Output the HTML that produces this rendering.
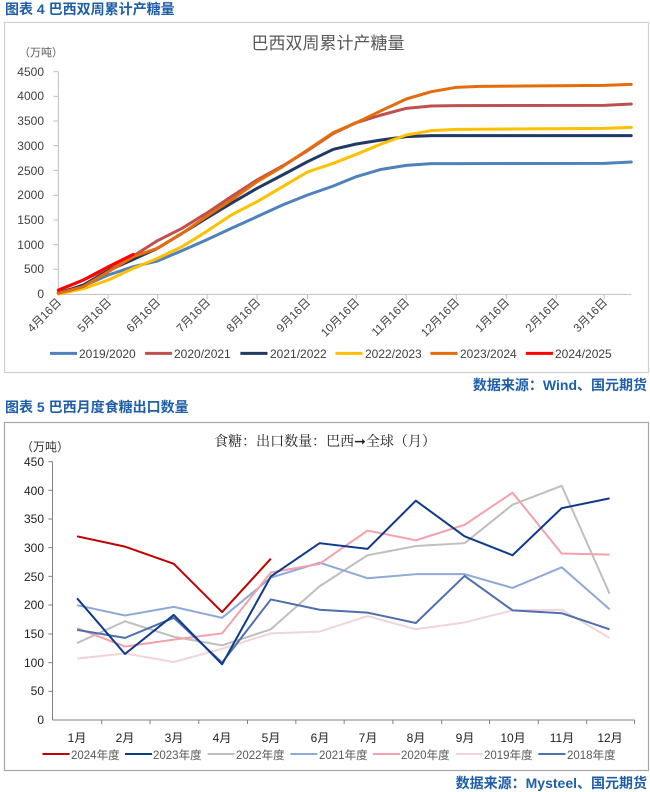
<!DOCTYPE html>
<html><head><meta charset="utf-8"><style>
body{margin:0;background:#fff;}
svg{display:block;font-family:"Liberation Sans","Noto Sans CJK SC",sans-serif;}
</style></head><body>
<svg width="650" height="792" viewBox="0 0 650 792" xmlns="http://www.w3.org/2000/svg">
<!-- Chart 1 text -->
<text x="5" y="14" font-size="14" font-weight="bold" fill="#1f5fa8">图表 4  巴西双周累计产糖量</text>
<rect x="4.5" y="22.5" width="644" height="350" fill="none" stroke="#d0d0d0" stroke-width="1.2"/>
<text x="328" y="49" font-size="17" fill="#595959" text-anchor="middle">巴西双周累计产糖量</text>
<text x="19" y="56" font-size="11" fill="#595959">（万吨）</text>
<g font-size="12" fill="#404040" text-anchor="end">
<text x="44" y="76">4500</text><text x="44" y="100">4000</text><text x="44" y="125">3500</text><text x="44" y="150">3000</text><text x="44" y="175">2500</text><text x="44" y="199">2000</text><text x="44" y="224">1500</text><text x="44" y="249">1000</text><text x="44" y="273">500</text><text x="44" y="298">0</text>
</g>
<g font-size="11.5" fill="#404040" text-anchor="end">
<text transform="translate(62,303) rotate(-45)">4月16日</text>
<text transform="translate(112,303) rotate(-45)">5月16日</text>
<text transform="translate(161,303) rotate(-45)">6月16日</text>
<text transform="translate(211,303) rotate(-45)">7月16日</text>
<text transform="translate(261,303) rotate(-45)">8月16日</text>
<text transform="translate(311,303) rotate(-45)">9月16日</text>
<text transform="translate(360,303) rotate(-45)">10月16日</text>
<text transform="translate(410,303) rotate(-45)">11月16日</text>
<text transform="translate(460,303) rotate(-45)">12月16日</text>
<text transform="translate(510,303) rotate(-45)">1月16日</text>
<text transform="translate(560,303) rotate(-45)">2月16日</text>
<text transform="translate(608,303) rotate(-45)">3月16日</text>
</g>
<g font-size="12" fill="#404040">
<text x="79" y="358">2019/2020</text><text x="174" y="358">2020/2021</text><text x="270" y="358">2021/2022</text><text x="365" y="358">2022/2023</text><text x="460" y="358">2023/2024</text><text x="555" y="358">2024/2025</text>
</g>
<text x="647" y="390" font-size="14" font-weight="bold" fill="#1f5fa8" text-anchor="end">数据来源：Wind、国元期货</text>

<g transform="scale(0.416667,0.333333)">
<g stroke="#bfbfbf" stroke-width="1" vector-effect="non-scaling-stroke">
<line vector-effect="non-scaling-stroke" x1="140" y1="215" x2="140" y2="883"/><line vector-effect="non-scaling-stroke" x1="140" y1="883" x2="1515" y2="883"/>
</g>
<g stroke="#bfbfbf" stroke-width="1">
<line vector-effect="non-scaling-stroke" x1="128" y1="215" x2="140" y2="215"/><line vector-effect="non-scaling-stroke" x1="128" y1="289" x2="140" y2="289"/><line vector-effect="non-scaling-stroke" x1="128" y1="363" x2="140" y2="363"/><line vector-effect="non-scaling-stroke" x1="128" y1="437" x2="140" y2="437"/><line vector-effect="non-scaling-stroke" x1="128" y1="511" x2="140" y2="511"/><line vector-effect="non-scaling-stroke" x1="128" y1="586" x2="140" y2="586"/><line vector-effect="non-scaling-stroke" x1="128" y1="660" x2="140" y2="660"/><line vector-effect="non-scaling-stroke" x1="128" y1="734" x2="140" y2="734"/><line vector-effect="non-scaling-stroke" x1="128" y1="808" x2="140" y2="808"/>
<line vector-effect="non-scaling-stroke" x1="259" y1="883" x2="259" y2="898"/><line vector-effect="non-scaling-stroke" x1="378" y1="883" x2="378" y2="898"/><line vector-effect="non-scaling-stroke" x1="497" y1="883" x2="497" y2="898"/><line vector-effect="non-scaling-stroke" x1="617" y1="883" x2="617" y2="898"/><line vector-effect="non-scaling-stroke" x1="738" y1="883" x2="738" y2="898"/><line vector-effect="non-scaling-stroke" x1="855" y1="883" x2="855" y2="898"/><line vector-effect="non-scaling-stroke" x1="975" y1="883" x2="975" y2="898"/><line vector-effect="non-scaling-stroke" x1="1095" y1="883" x2="1095" y2="898"/><line vector-effect="non-scaling-stroke" x1="1215" y1="883" x2="1215" y2="898"/><line vector-effect="non-scaling-stroke" x1="1335" y1="883" x2="1335" y2="898"/><line vector-effect="non-scaling-stroke" x1="1450" y1="883" x2="1450" y2="898"/>
</g>
<g fill="none" stroke-width="3" stroke-linejoin="round" stroke-linecap="round">
<polyline vector-effect="non-scaling-stroke" stroke="#4f81bd" points="140,878 200,858 260,825 320,800 378,783 437,752 495,720 555,685 617,650 678,615 738,585 800,558 855,530 915,508 975,496 1035,491 1095,491 1450,490 1515,486"/>
<polyline vector-effect="non-scaling-stroke" stroke="#c0504d" points="140,872 200,840 260,805 320,768 378,722 437,685 495,640 555,590 617,540 678,498 738,452 800,400 855,368 915,345 975,325 1035,318 1095,317 1450,316 1515,312"/>
<polyline vector-effect="non-scaling-stroke" stroke="#1f3864" points="140,880 200,855 260,812 320,778 378,745 437,700 495,655 555,610 617,565 678,525 738,485 800,448 855,432 915,420 975,410 1035,407 1515,407"/>
<polyline vector-effect="non-scaling-stroke" stroke="#ffc000" points="140,882 200,866 260,840 320,805 378,775 437,740 495,695 555,645 617,605 678,560 738,516 800,490 855,463 915,432 975,405 1035,392 1095,388 1450,385 1515,382"/>
<polyline vector-effect="non-scaling-stroke" stroke="#e46c0a" points="140,880 200,860 260,815 320,770 378,745 437,700 495,650 555,600 617,545 678,500 738,450 800,398 855,368 915,332 975,297 1035,275 1095,262 1150,259 1450,256 1515,253"/>
<polyline vector-effect="non-scaling-stroke" stroke="#ff0000" points="140,870 200,840 260,800 320,763"/>
</g>
<g stroke-width="3">
<line vector-effect="non-scaling-stroke" x1="120" y1="1060" x2="185" y2="1060" stroke="#4f81bd"/>
<line vector-effect="non-scaling-stroke" x1="348" y1="1060" x2="413" y2="1060" stroke="#c0504d"/>
<line vector-effect="non-scaling-stroke" x1="577" y1="1060" x2="642" y2="1060" stroke="#1f3864"/>
<line vector-effect="non-scaling-stroke" x1="805" y1="1060" x2="870" y2="1060" stroke="#ffc000"/>
<line vector-effect="non-scaling-stroke" x1="1033" y1="1060" x2="1098" y2="1060" stroke="#e46c0a"/>
<line vector-effect="non-scaling-stroke" x1="1262" y1="1060" x2="1327" y2="1060" stroke="#ff0000"/>
</g>
</g>

<!-- Chart 2 text -->
<text x="5" y="412" font-size="14" font-weight="bold" fill="#1f5fa8">图表 5  巴西月度食糖出口数量</text>
<rect x="4.5" y="422.5" width="644" height="348" fill="none" stroke="#a6a6a6" stroke-width="1.2"/>
<text x="325" y="446" font-size="14" fill="#222" text-anchor="middle" font-family="'Noto Serif CJK SC','Liberation Serif',serif">食糖：出口数量：巴西➞全球（月）</text>
<text x="21" y="451" font-size="12" fill="#333">（万吨）</text>
<g font-size="12" fill="#222" text-anchor="end">
<text x="44" y="466">450</text><text x="44" y="495">400</text><text x="44" y="523">350</text><text x="44" y="552">300</text><text x="44" y="581">250</text><text x="44" y="609">200</text><text x="44" y="638">150</text><text x="44" y="667">100</text><text x="44" y="695">50</text><text x="44" y="724">0</text>
</g>
<g font-size="12" fill="#222" text-anchor="middle">
<text x="77" y="742">1月</text><text x="125" y="742">2月</text><text x="174" y="742">3月</text><text x="222" y="742">4月</text><text x="271" y="742">5月</text><text x="320" y="742">6月</text><text x="368" y="742">7月</text><text x="416" y="742">8月</text><text x="465" y="742">9月</text><text x="513" y="742">10月</text><text x="562" y="742">11月</text><text x="610" y="742">12月</text>
</g>
<g font-size="11.5" fill="#595959">
<text x="71" y="759">2024年度</text><text x="153" y="759">2023年度</text><text x="236" y="759">2022年度</text><text x="319" y="759">2021年度</text><text x="401" y="759">2020年度</text><text x="484" y="759">2019年度</text><text x="567" y="759">2018年度</text>
</g>
<text x="647" y="788" font-size="14" font-weight="bold" fill="#1f5fa8" text-anchor="end">数据来源：Mysteel、国元期货</text>

<g transform="translate(0,395) scale(0.416667,0.333333)">
<g stroke="#808080" stroke-width="1">
<line vector-effect="non-scaling-stroke" x1="126" y1="200" x2="126" y2="975"/><line vector-effect="non-scaling-stroke" x1="126" y1="975" x2="1523" y2="975"/>
<line vector-effect="non-scaling-stroke" x1="116" y1="200" x2="126" y2="200"/><line vector-effect="non-scaling-stroke" x1="116" y1="286" x2="126" y2="286"/><line vector-effect="non-scaling-stroke" x1="116" y1="372" x2="126" y2="372"/><line vector-effect="non-scaling-stroke" x1="116" y1="458" x2="126" y2="458"/><line vector-effect="non-scaling-stroke" x1="116" y1="544" x2="126" y2="544"/><line vector-effect="non-scaling-stroke" x1="116" y1="630" x2="126" y2="630"/><line vector-effect="non-scaling-stroke" x1="116" y1="717" x2="126" y2="717"/><line vector-effect="non-scaling-stroke" x1="116" y1="803" x2="126" y2="803"/><line vector-effect="non-scaling-stroke" x1="116" y1="889" x2="126" y2="889"/>
<line vector-effect="non-scaling-stroke" x1="244" y1="975" x2="244" y2="987"/><line vector-effect="non-scaling-stroke" x1="360" y1="975" x2="360" y2="987"/><line vector-effect="non-scaling-stroke" x1="477" y1="975" x2="477" y2="987"/><line vector-effect="non-scaling-stroke" x1="594" y1="975" x2="594" y2="987"/><line vector-effect="non-scaling-stroke" x1="710" y1="975" x2="710" y2="987"/><line vector-effect="non-scaling-stroke" x1="826" y1="975" x2="826" y2="987"/><line vector-effect="non-scaling-stroke" x1="943" y1="975" x2="943" y2="987"/><line vector-effect="non-scaling-stroke" x1="1060" y1="975" x2="1060" y2="987"/><line vector-effect="non-scaling-stroke" x1="1175" y1="975" x2="1175" y2="987"/><line vector-effect="non-scaling-stroke" x1="1292" y1="975" x2="1292" y2="987"/><line vector-effect="non-scaling-stroke" x1="1408" y1="975" x2="1408" y2="987"/><line vector-effect="non-scaling-stroke" x1="1523" y1="975" x2="1523" y2="987"/>
</g>
<g transform="translate(0,975) scale(1,-1.7222)" fill="none" stroke-width="2" stroke-linejoin="round">
<polyline vector-effect="non-scaling-stroke" stroke="#f2d4d8" points="185,107 300,116 417,101 533,124 650,151 767,154 882,181 998,158 1115,170 1230,191 1348,192 1463,143"/>
<polyline vector-effect="non-scaling-stroke" stroke="#bfbfbf" points="185,134 300,172 417,145 533,130 650,158 767,233 882,287 998,303 1115,308 1230,375 1348,408 1463,220"/>
<polyline vector-effect="non-scaling-stroke" stroke="#8ea9d8" points="185,200 300,182 417,197 533,178 650,248 767,274 882,247 998,254 1115,254 1230,230 1348,266 1463,193"/>
<polyline vector-effect="non-scaling-stroke" stroke="#f4a0aa" points="185,160 300,128 417,140 533,151 650,257 767,272 882,330 998,313 1115,340 1230,396 1348,290 1463,288"/>
<polyline vector-effect="non-scaling-stroke" stroke="#4f6fad" points="185,157 300,143 417,178 533,100 650,210 767,192 882,187 998,169 1115,251 1230,191 1348,186 1463,158"/>
<polyline vector-effect="non-scaling-stroke" stroke="#0e3a8a" points="185,212 300,115 417,183 533,97 650,250 767,308 882,298 998,382 1115,320 1230,287 1348,369 1463,386"/>
<polyline vector-effect="non-scaling-stroke" stroke="#c00000" points="185,320 300,302 417,272 533,188 650,281"/>
</g>
<g stroke-width="2">
<line vector-effect="non-scaling-stroke" x1="102" y1="1077" x2="167" y2="1077" stroke="#c00000"/>
<line vector-effect="non-scaling-stroke" x1="300" y1="1077" x2="365" y2="1077" stroke="#0e3a8a"/>
<line vector-effect="non-scaling-stroke" x1="498" y1="1077" x2="563" y2="1077" stroke="#bfbfbf"/>
<line vector-effect="non-scaling-stroke" x1="697" y1="1077" x2="762" y2="1077" stroke="#8ea9d8"/>
<line vector-effect="non-scaling-stroke" x1="895" y1="1077" x2="960" y2="1077" stroke="#f4a0aa"/>
<line vector-effect="non-scaling-stroke" x1="1094" y1="1077" x2="1159" y2="1077" stroke="#f2d4d8"/>
<line vector-effect="non-scaling-stroke" x1="1292" y1="1077" x2="1357" y2="1077" stroke="#4f6fad"/>
</g>
</g>
</svg>
</body></html>
